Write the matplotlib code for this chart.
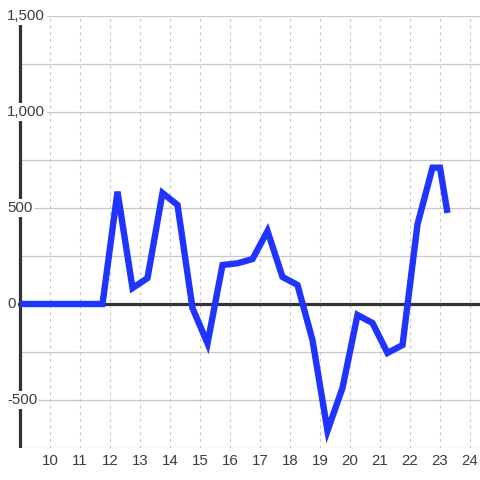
import matplotlib
matplotlib.use("Agg")
import matplotlib.pyplot as plt

# data
hours = [9.0, 11.75, 12.25, 12.75, 13.25, 13.75, 14.25, 14.75, 15.25, 15.75,
         16.25, 16.75, 17.25, 17.75, 18.25, 18.75, 19.25, 19.75, 20.25, 20.75,
         21.25, 21.75, 22.25, 22.75, 23.0, 23.25]
values = [0, 0, 585, 83, 135, 578, 516, -21, -205, 203,
          212, 234, 380, 141, 99, -188, -660, -437, -57, -99,
          -255, -214, 415, 710, 710, 474]

x_ticks = list(range(10, 25))
y_grid = [-750, -500, -250, 250, 500, 750, 1000, 1250, 1500]
y_labels = {1500: "1,500", 1000: "1,000", 500: "500", 0: "0", -500: "-500"}

fig = plt.figure(figsize=(4.8, 4.8), dpi=100)
fig.patch.set_facecolor("white")
ax = fig.add_axes([0, 32 / 480, 1, 432 / 480])
ax.set_facecolor("white")
ax.set_xlim(10 - 50 / 30, 10 + 430 / 30)
ax.set_ylim(-750, 1500)
for s in ax.spines.values():
    s.set_visible(False)
ax.set_xticks([])
ax.set_yticks([])

x0 = 9.0
xl = ax.get_xlim()
xmin_frac = (x0 - xl[0]) / (xl[1] - xl[0])
lab_frac = 8 / 480

# vertical dotted grid
for xt in x_ticks:
    ax.axvline(xt, color="#c4c4c4", lw=0.8, ls=(0, (2.5, 3.5)), zorder=1)

# horizontal grid
for yv in y_grid:
    start = lab_frac if yv in y_labels else xmin_frac
    ax.axhline(yv, xmin=start, color="#c8c8c8", lw=0.9, zorder=1)

# zero line and left axis
ax.axhline(0, xmin=lab_frac, color="#333333", lw=2.3, zorder=2)
ax.axvline(x0, color="#333333", lw=2.3, zorder=2)

# series
ax.plot(hours, values, color="#1f35ff", lw=4.6, solid_joinstyle="miter",
        solid_capstyle="butt", zorder=4)

# y labels with white background over grid and axis
lab_x = xl[0] + 7 / 30
for yv, txt in y_labels.items():
    ax.text(lab_x, yv, txt, ha="left", va="center", fontsize=10.8,
            family="Liberation Sans", color="#3c3c3c", zorder=6,
            bbox=dict(facecolor="white", edgecolor="none", pad=1.5))

# x labels
y_lab = -750 - 6 * 2250 / 432
for xt in x_ticks:
    ax.text(xt, y_lab, str(xt), ha="center", va="top", fontsize=10.8,
            family="Liberation Sans", color="#3c3c3c", clip_on=False)

fig.savefig("out.png", dpi=100, facecolor="white")
